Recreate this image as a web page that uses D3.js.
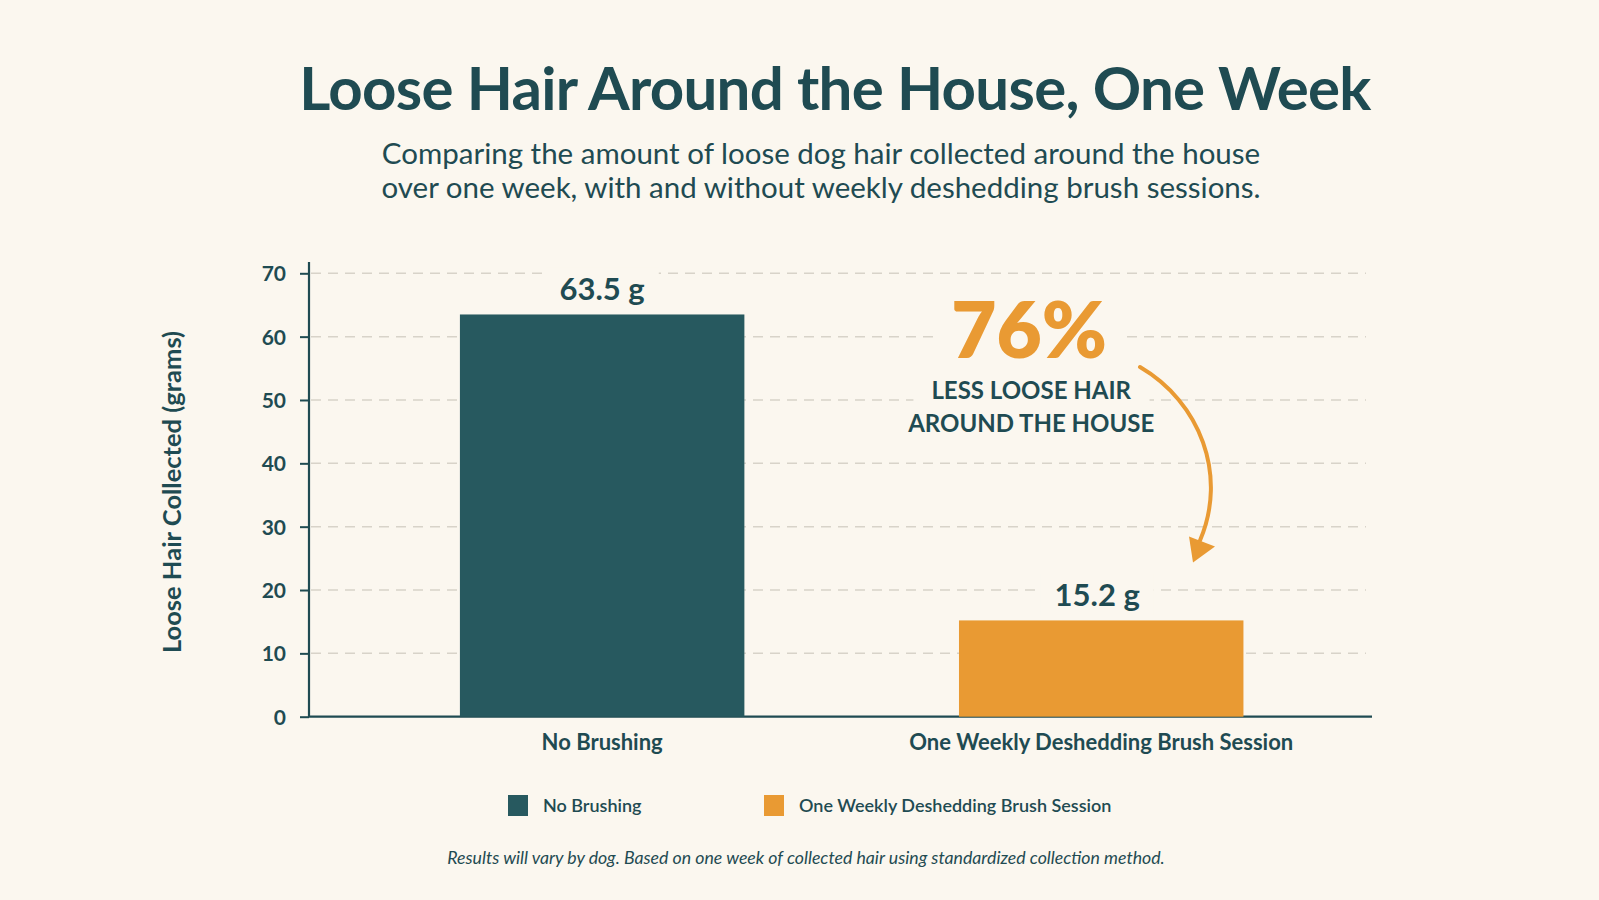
<!DOCTYPE html>
<html>
<head>
<meta charset="utf-8">
<script src="https://cdn.jsdelivr.net/npm/d3@7"></script>
<style>
  body { margin: 0; background: #FBF7EF; }
  svg { display: block; }
  text { font-family: "Lato", "Open Sans", sans-serif; fill: #1F4B52; }
  .tick text { font-size: 21px; font-weight: 700; }
</style>
</head>
<body>
<svg width="1599" height="900"></svg>
<script>
// data
var categories = ["No Brushing", "One Weekly Deshedding Brush Session"];
var values = [63.5, 15.2];
var valueLabels = ["63.5 g", "15.2 g"];
var barColors = ["#27595F", "#E99A33"];
var yTicks = [0, 10, 20, 30, 40, 50, 60, 70];

var svg = d3.select("svg");
var ink = "#1F4B52";
var bg = "#FBF7EF";

svg.append("rect").attr("width", 1599).attr("height", 900).attr("fill", bg);

// titles
svg.append("text")
  .attr("x", 835).attr("y", 110)
  .attr("text-anchor", "middle")
  .style("font-size", "60px").style("font-weight", 700)
  .style("letter-spacing", "-0.7px")
  .text("Loose Hair Around the House, One Week");

svg.append("text")
  .attr("x", 821).attr("y", 164)
  .attr("text-anchor", "middle")
  .style("font-size", "29.5px")
  .text("Comparing the amount of loose dog hair collected around the house");
svg.append("text")
  .attr("x", 821).attr("y", 198)
  .attr("text-anchor", "middle")
  .style("font-size", "29.5px")
  .text("over one week, with and without weekly deshedding brush sessions.");

var xScale = d3.scaleBand().domain(categories).range([309, 1372])
  .paddingInner(0.43).paddingOuter(0.28).align(0.54);
var yScale = d3.scaleLinear().domain([0, 70]).range([716.7, 273.3]);

// grid
svg.append("g").selectAll("line")
  .data(yTicks.filter(function(d) { return d > 0; }))
  .enter().append("line")
  .attr("x1", 311).attr("x2", 1366)
  .attr("y1", function(d) { return yScale(d); })
  .attr("y2", function(d) { return yScale(d); })
  .attr("stroke", "#D8D3C9")
  .attr("stroke-width", 1.5)
  .attr("stroke-dasharray", "10,7");

// y axis
var yAxis = svg.append("g")
  .attr("transform", "translate(309,0)")
  .call(d3.axisLeft(yScale).tickValues(yTicks).tickSize(9).tickPadding(14));
yAxis.select(".domain").attr("stroke", ink).attr("stroke-width", 2.2)
  .attr("d", "M0,262V716.7");
yAxis.selectAll(".tick line").attr("stroke", ink).attr("stroke-width", 2);
yAxis.selectAll(".tick text").attr("fill", ink).attr("dy", "0.36em");

// x axis
var xAxis = svg.append("g")
  .attr("transform", "translate(0,716.7)")
  .call(d3.axisBottom(xScale).tickSize(0).tickPadding(14));
xAxis.select(".domain").attr("stroke", ink).attr("stroke-width", 2.2)
  .attr("d", "M308,0H1372");
xAxis.selectAll(".tick text").attr("fill", ink).style("font-size", "22px").attr("dy", "0.9em");

svg.append("text")
  .attr("transform", "translate(181,492) rotate(-90)")
  .attr("text-anchor", "middle")
  .style("font-size", "25.5px").style("font-weight", 700)
  .text("Loose Hair Collected (grams)");

// bars
svg.append("g").selectAll("rect")
  .data(values)
  .enter().append("rect")
  .attr("x", function(d, i) { return xScale(categories[i]); })
  .attr("y", function(d) { return yScale(d); })
  .attr("width", xScale.bandwidth())
  .attr("height", function(d) { return yScale(0) - yScale(d); })
  .attr("fill", function(d, i) { return barColors[i]; });

// knock out grid behind text
function withBackdrop(sel, padX, padY) {
  sel.each(function() {
    var node = this;
    var b = node.getBBox();
    d3.select(node.parentNode).insert("rect", function() { return node; })
      .attr("x", b.x - padX).attr("y", b.y - padY)
      .attr("width", b.width + 2 * padX).attr("height", b.height + 2 * padY)
      .attr("fill", bg);
  });
}

var valLayer = svg.append("g");
var vt = valLayer.selectAll("text")
  .data(values)
  .enter().append("text")
  .attr("x", function(d, i) { return xScale(categories[i]) + xScale.bandwidth() / 2 - (i ? 4 : 0); })
  .attr("y", function(d) { return yScale(d) - 14; })
  .attr("text-anchor", "middle")
  .style("font-size", "31px").style("font-weight", 700)
  .text(function(d, i) { return valueLabels[i]; });
withBackdrop(vt, 14, 2);

// callout
var cx = xScale(categories[1]) + xScale.bandwidth() / 2 - 72;
var callout = svg.append("g");
var big = callout.append("text")
  .attr("x", cx).attr("y", 358)
  .attr("text-anchor", "middle")
  .style("font-size", "78px").style("font-weight", 800)
  .style("fill", "#E99A33")
  .text("76%");
var l1 = callout.append("text")
  .attr("x", cx + 2).attr("y", 399)
  .attr("text-anchor", "middle")
  .style("font-size", "24px").style("font-weight", 700)
  .text("LESS LOOSE HAIR");
var l2 = callout.append("text")
  .attr("x", cx + 2).attr("y", 432)
  .attr("text-anchor", "middle")
  .style("font-size", "24px").style("font-weight", 700)
  .text("AROUND THE HOUSE");
withBackdrop(big, 16, -6);
withBackdrop(l1, 18, 0);
withBackdrop(l2, 18, 0);

// arrow from callout down to the small bar
var tipY = yScale(values[1]) - 58;
var p = d3.path();
p.moveTo(1140, 367);
p.bezierCurveTo(1200, 402, 1228, 475, 1200, tipY - 22);
svg.append("path").attr("d", p.toString())
  .attr("fill", "none").attr("stroke", "#E99A33").attr("stroke-width", 4).attr("stroke-linecap", "round");
svg.append("path")
  .attr("d", "M1189," + (tipY - 26) + "L1215," + (tipY - 16) + "L1193," + tipY + "Z")
  .attr("fill", "#E99A33");

// legend
var legend = svg.append("g").selectAll("g")
  .data(categories)
  .enter().append("g")
  .attr("transform", function(d, i) { return "translate(" + [508, 764][i] + ",795)"; });
legend.append("rect")
  .attr("width", 20).attr("height", 21)
  .attr("fill", function(d, i) { return barColors[i]; });
legend.append("text")
  .attr("x", 35).attr("y", 17)
  .style("font-size", "18px").style("font-weight", 600)
  .text(function(d) { return d; });

svg.append("text")
  .attr("x", 806).attr("y", 864)
  .attr("text-anchor", "middle")
  .style("font-size", "17.7px").style("font-style", "italic")
  .text("Results will vary by dog. Based on one week of collected hair using standardized collection method.");
</script>
</body>
</html>
